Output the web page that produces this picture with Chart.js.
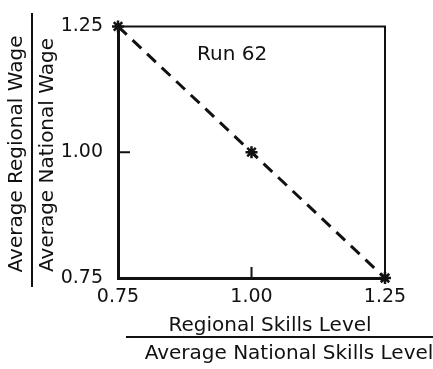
<!DOCTYPE html>
<html>
<head>
<meta charset="utf-8">
<script src="https://cdn.jsdelivr.net/npm/chart.js@4/dist/chart.umd.min.js"></script>
<style>
  html, body { margin: 0; padding: 0; background: #fff; }
  #wrap { width: 433px; height: 369px; position: relative; }
</style>
</head>
<body>
<div id="wrap"><canvas id="c" width="433" height="369"></canvas></div>
<script>
// ---- data ----
const skillsLevel = [0.75, 1.00, 1.25];      // Regional / Average National skills level
const wageRatio   = [1.25, 1.00, 0.75];      // Regional / Average National wage
const xTickValues = [0.75, 1.00, 1.25];
const yTickValues = [0.75, 1.00, 1.25];
const runLabel = "Run 62";
const xTitleTop = "Regional Skills Level";
const xTitleBottom = "Average National Skills Level";
const yTitleTop = "Average Regional Wage";
const yTitleBottom = "Average National Wage";

const INK = '#111';
const FONT = '"DejaVu Sans", sans-serif';

const points = skillsLevel.map((x, i) => ({ x: x, y: wageRatio[i] }));

const decor = {
  id: 'decor',
  afterDraw(chart) {
    const ctx = chart.ctx;
    const a = chart.chartArea;
    const xs = chart.scales.x, ys = chart.scales.y;
    ctx.save();
    ctx.strokeStyle = INK;
    ctx.fillStyle = INK;
    // top and right frame
    ctx.lineWidth = 2;
    ctx.beginPath();
    ctx.moveTo(a.left, a.top);
    ctx.lineTo(a.right, a.top);
    ctx.lineTo(a.right, a.bottom);
    ctx.stroke();
    // inward tick marks at interior ticks
    ctx.lineWidth = 2;
    ctx.beginPath();
    const yMid = ys.getPixelForValue(yTickValues[1]);
    ctx.moveTo(a.left, yMid); ctx.lineTo(a.left + 12, yMid);
    const xMid = xs.getPixelForValue(xTickValues[1]);
    ctx.moveTo(xMid, a.bottom); ctx.lineTo(xMid, a.bottom - 11);
    ctx.stroke();

    // run label
    ctx.font = '20px ' + FONT;
    ctx.textAlign = 'left';
    ctx.textBaseline = 'alphabetic';
    ctx.fillText(runLabel, 197, 60);

    // x titles (fraction)
    ctx.textAlign = 'center';
    ctx.fillText(xTitleTop, 270, 331);
    ctx.lineWidth = 2;
    ctx.beginPath();
    ctx.moveTo(126, 337); ctx.lineTo(433, 337);
    ctx.stroke();
    ctx.fillText(xTitleBottom, 289, 359);

    // y titles (fraction)
    ctx.save();
    ctx.translate(22, 154);
    ctx.rotate(-Math.PI / 2);
    ctx.fillText(yTitleTop, 0, 0);
    ctx.restore();
    ctx.beginPath();
    ctx.moveTo(32, 13); ctx.lineTo(32, 287);
    ctx.stroke();
    ctx.save();
    ctx.translate(53, 155);
    ctx.rotate(-Math.PI / 2);
    ctx.fillText(yTitleBottom, 0, 0);
    ctx.restore();

    ctx.restore();
  }
};

new Chart(document.getElementById('c'), {
  type: 'scatter',
  data: {
    datasets: [{
      data: points,
      showLine: true,
      borderColor: INK,
      borderWidth: 3,
      borderDash: [12, 8],
      pointStyle: 'star',
      pointRadius: 6,
      pointBorderWidth: 2.5,
      pointBorderColor: INK,
      pointBackgroundColor: INK,
      clip: false
    }]
  },
  options: {
    responsive: false,
    animation: false,
    devicePixelRatio: 1,
    layout: { padding: { top: 14, right: 48, left: 0, bottom: 0 } },
    plugins: { legend: { display: false }, tooltip: { enabled: false } },
    scales: {
      x: {
        type: 'linear',
        min: 0.75, max: 1.25,
        afterBuildTicks: s => { s.ticks = xTickValues.map(v => ({ value: v })); },
        afterFit: s => { s.height = 91; },
        grid: { display: false, drawTicks: false },
        border: { display: true, color: INK, width: 3 },
        ticks: {
          color: INK, font: { family: FONT, size: 19 }, padding: 8,
          maxRotation: 0, autoSkip: false,
          callback: v => Number(v).toFixed(2)
        }
      },
      y: {
        type: 'linear',
        min: 0.75, max: 1.25,
        afterBuildTicks: s => { s.ticks = yTickValues.map(v => ({ value: v })); },
        afterFit: s => { s.width = 118; },
        grid: { display: false, drawTicks: false },
        border: { display: true, color: INK, width: 3 },
        ticks: {
          color: INK, font: { family: FONT, size: 19 }, padding: 15,
          autoSkip: false,
          callback: v => Number(v).toFixed(2)
        }
      }
    }
  },
  plugins: [decor]
});
</script>
</body>
</html>
